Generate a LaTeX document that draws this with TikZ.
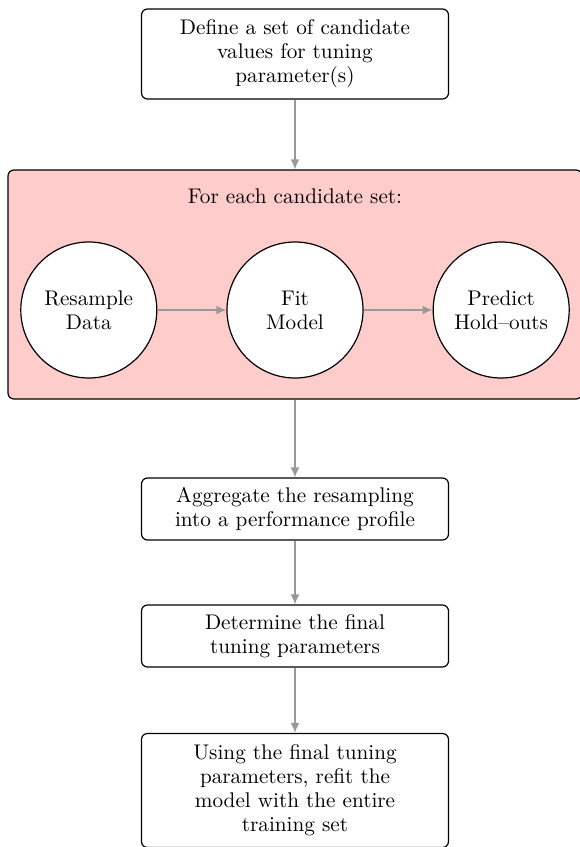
\documentclass[tikz,border=0pt]{standalone}
\usepackage{tikz}
\usetikzlibrary{arrows.meta}
\usetikzlibrary{positioning}
\colorlet{loopfill}{red!20}
\colorlet{flowgray}{black!40}
\tikzstyle{every node}=[font=\fontsize{10.6pt}{12pt}\selectfont]
\tikzstyle{stepbox}=[draw,line width=.6pt,rounded corners=3pt,align=center,minimum width=153.5pt,inner ysep=4.5pt]
\tikzstyle{panel}=[draw,line width=.6pt,rounded corners=3pt,fill=loopfill,minimum width=287pt,minimum height=114.5pt]
\tikzstyle{task}=[draw,line width=.6pt,circle,fill=white,align=center,minimum size=68pt,inner sep=0pt]
\tikzstyle{flow}=[thick,flowgray,-{Latex[length=5pt,width=4.5pt]}]

\begin{document}
\begin{tikzpicture}[x=0.5pt,y=-0.5pt]
	\useasboundingbox (0,0) rectangle (579,847);
	\node[stepbox,minimum height=45pt] (define) at (295,54) {Define a set of candidate\\values for tuning\\parameter(s)};
	\node[panel] (loop) at (295,284.5) {};
	\node (title) at (295,196) {For each candidate set:};
	\node[task] (fit) at (295,310) {Fit\\Model};
	\node[task,left=34.5pt of fit] (resample) {Resample\\Data};
	\node[task,right=34.5pt of fit] (predict) {Predict\\Hold--outs};
	\node[stepbox,minimum height=31pt] (aggregate) at (295,509) {Aggregate the resampling\\into a performance profile};
	\node[stepbox,minimum height=31pt] (determine) at (295,636) {Determine the final\\tuning parameters};
	\node[stepbox,minimum height=57pt] (refit) at (295,790.5) {Using the final tuning\\parameters, refit the\\model with the entire\\training set};
	\draw[flow] (define) -- (loop);
	\draw[flow] (resample) -- (fit);
	\draw[flow] (fit) -- (predict);
	\draw[flow] (loop) -- (aggregate);
	\draw[flow] (aggregate) -- (determine);
	\draw[flow] (determine) -- (refit);
\end{tikzpicture}
\end{document}
